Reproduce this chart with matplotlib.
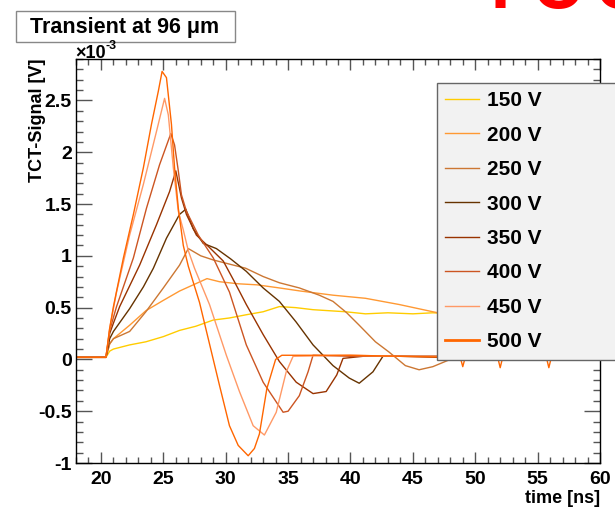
import matplotlib
matplotlib.use('Agg')
import matplotlib.pyplot as plt
from matplotlib.ticker import MultipleLocator, FormatStrFormatter
from matplotlib.patches import Rectangle

plt.rcParams['font.family'] = ['Liberation Sans', 'DejaVu Sans']
plt.rcParams['font.weight'] = 'bold'
plt.rcParams['axes.labelweight'] = 'bold'
plt.rcParams['axes.unicode_minus'] = False

#---- Data (signal in units of 1e-3 V, time in ns) ----------------------------#

labels = ['150 V', '200 V', '250 V', '300 V', '350 V', '400 V', '450 V', '500 V']
colors = ['#FFCC00', '#FF9933', '#CC7733', '#663300',
          '#993300', '#CC5522', '#FF9966', '#FF6600']

t150 = [18, 20.4, 20.7, 21.0, 22.3, 23.6, 25.0, 26.3, 27.6, 29.0, 30.3, 31.6,
        33.0, 34.3, 35.6, 37.0, 38.3, 39.6, 41.2, 43.0, 45.0, 46.6, 50, 55, 60]
v150 = [0.02, 0.02, 0.08, 0.10, 0.14, 0.17, 0.22, 0.28, 0.32, 0.38, 0.40, 0.43,
        0.46, 0.51, 0.50, 0.48, 0.47, 0.46, 0.44, 0.45, 0.44, 0.45, 0.43, 0.40, 0.38]

t200 = [18, 20.4, 20.7, 21.0, 22.3, 23.6, 25.0, 26.3, 27.4, 28.5, 29.5, 31.0,
        32.5, 34.3, 36.0, 38.6, 41.2, 43.9, 46.6, 50, 55, 60]
v200 = [0.02, 0.02, 0.15, 0.20, 0.33, 0.47, 0.57, 0.66, 0.72, 0.78, 0.75, 0.73,
        0.72, 0.69, 0.66, 0.62, 0.59, 0.53, 0.46, 0.38, 0.25, 0.12]

t250 = [18, 20.4, 20.7, 21.0, 22.3, 23.6, 25.0, 26.3, 27.0, 28.0, 29.0, 30.3,
        31.6, 33.0, 34.3, 35.9, 37.5, 38.6, 39.7, 40.7, 42.0, 43.1, 44.4, 45.5,
        46.6, 48, 50, 55, 60]
v250 = [0.02, 0.02, 0.15, 0.20, 0.27, 0.46, 0.69, 0.91, 1.07, 1.00, 0.96, 0.92,
        0.88, 0.80, 0.74, 0.69, 0.62, 0.56, 0.45, 0.33, 0.17, 0.07, -0.06, -0.10,
        -0.07, 0.00, 0.02, 0.02, 0.02]

t300 = [18, 20.4, 20.7, 21.0, 22.3, 23.4, 24.2, 25.25, 26.3, 26.8, 27.4, 28.2,
        29.25, 30.4, 31.65, 33.0, 34.3, 35.65, 37.0, 38.6, 39.9, 40.7, 41.8, 42.6,
        44, 47, 50, 55, 60]
v300 = [0.02, 0.02, 0.20, 0.27, 0.49, 0.70, 0.88, 1.17, 1.40, 1.45, 1.26, 1.12,
        1.07, 0.97, 0.85, 0.69, 0.56, 0.36, 0.14, -0.06, -0.18, -0.23, -0.12, 0.03,
        0.03, 0.03, 0.02, 0.02, 0.02]

t350 = [18, 20.4, 20.7, 21.0, 21.5, 23.1, 24.45, 25.5, 26.0, 26.45, 26.85, 27.65,
        28.7, 29.8, 30.7, 31.65, 33.0, 34.3, 35.65, 37.0, 38.05, 38.9, 39.4, 41,
        44, 47, 50, 55, 60]
v350 = [0.02, 0.02, 0.25, 0.35, 0.51, 0.91, 1.30, 1.62, 1.82, 1.56, 1.40, 1.20,
        1.08, 0.95, 0.75, 0.53, 0.24, -0.02, -0.22, -0.33, -0.31, -0.15, 0.01, 0.03,
        0.03, 0.02, 0.02, 0.02, 0.02]

t400 = [18, 20.4, 20.7, 21.25, 22.6, 23.65, 24.7, 25.6, 25.9, 26.2, 26.45, 26.85,
        27.8, 29.0, 30.3, 31.65, 33.0, 34.6, 35.0, 35.9, 36.6, 37.0, 40, 44, 47,
        50, 55, 60]
v400 = [0.02, 0.02, 0.28, 0.51, 0.98, 1.46, 1.88, 2.18, 2.07, 1.82, 1.59, 1.43,
        1.20, 0.98, 0.65, 0.14, -0.22, -0.51, -0.50, -0.35, -0.12, 0.04, 0.03, 0.03,
        0.03, 0.02, 0.02, 0.02]

t450 = [18, 20.4, 20.7, 21.25, 22.3, 23.4, 24.45, 25.1, 25.4, 25.8, 26.2, 26.6,
        27.0, 27.5, 28.7, 30.05, 31.1, 32.2, 33.1, 34.05, 34.85, 35.4, 40, 44, 47,
        50, 55, 60]
v450 = [0.02, 0.02, 0.30, 0.65, 1.20, 1.69, 2.20, 2.52, 2.36, 1.85, 1.43, 1.25,
        1.05, 0.88, 0.53, 0.04, -0.31, -0.64, -0.73, -0.51, -0.12, 0.03, 0.04, 0.03,
        0.03, 0.02, 0.02, 0.02]

t500 = [18, 20.4, 20.7, 21.0, 21.8, 22.6, 23.4, 24.05, 24.6, 24.9, 25.25, 25.65,
        25.9, 26.2, 26.6, 27.0, 27.9, 28.7, 29.5, 30.3, 31.0, 31.8, 32.3, 32.7,
        33.3, 34.0, 34.5, 40, 44, 48.8, 49.0, 49.2, 51.8, 52.0, 52.2, 55.7, 55.9,
        56.1, 60]
v500 = [0.02, 0.02, 0.30, 0.51, 0.98, 1.40, 1.85, 2.27, 2.59, 2.78, 2.72, 2.27,
        1.85, 1.46, 1.10, 0.90, 0.55, 0.15, -0.25, -0.64, -0.83, -0.93, -0.86, -0.72,
        -0.28, 0.00, 0.04, 0.04, 0.03, 0.02, -0.07, 0.02, 0.02, -0.08, 0.02, 0.02,
        -0.08, 0.02, 0.02]

times = [t150, t200, t250, t300, t350, t400, t450, t500]
signals = [v150, v200, v250, v300, v350, v400, v450, v500]

#---- Plotting ---------------------------------------------------------------#

fig = plt.figure(figsize=(6.15, 5.08), dpi=100)
ax = fig.add_axes([76/615, 45/508, 524/615, 404/508])

lines = []
for t, v, c, lab in zip(times, signals, colors, labels):
    ln, = ax.plot(t, v, color=c, lw=1.0, label=lab)
    lines.append(ln)

ax.set_xlim(18, 60)
ax.set_ylim(-1, 2.9)

ax.xaxis.set_major_locator(MultipleLocator(5))
ax.xaxis.set_minor_locator(MultipleLocator(1))
ax.yaxis.set_major_locator(MultipleLocator(0.5))
ax.yaxis.set_minor_locator(MultipleLocator(0.1))
ax.yaxis.set_major_formatter(FormatStrFormatter('%g'))

ax.tick_params(which='both', direction='in', top=True, right=True,
               color='#555555', width=1.0, labelsize=14)
ax.tick_params(axis='x', which='major', length=8, pad=6)
ax.tick_params(axis='x', which='minor', length=4.3)
ax.tick_params(axis='y', which='major', length=11.3, pad=3)
ax.tick_params(axis='y', which='minor', length=5.3)
for sp in ax.spines.values():
    sp.set_linewidth(1.0)

ax.set_xlabel('time [ns]', fontsize=13, fontweight='bold', loc='right')
ax.xaxis.set_label_coords(1.0, -0.067)
ax.set_ylabel('TCT-Signal [V]', fontsize=13, fontweight='bold', loc='top')
ax.yaxis.set_label_coords(-0.058, 1.0)

# exponent of the y axis
fig.text(75/615, 1-58/508, '\u00d710', fontsize=13, ha='left', va='baseline')
fig.text(106/615, 1-49/508, '-3', fontsize=9, ha='left', va='baseline')

# title box
fig.add_artist(Rectangle((16/615, 1-42/508), 219/615, 31/508,
                         transform=fig.transFigure, fc='white', ec='#888888', lw=1.0))
fig.text(125/615, 1-27/508, 'Transient at 96 \u03bcm', fontsize=15.5,
         ha='center', va='center')

# red label cut off by the top edge
fig.text(466/615, 1-8/508, '100', fontsize=80, family='Roboto',
         fontweight='normal', color='red', ha='left', va='baseline')

leg = fig.legend(handles=lines, labels=labels, loc='upper left',
                 bbox_to_anchor=(437/615, 1-365/508, 200/615, 282/508),
                 mode='expand', borderaxespad=0, borderpad=0.4,
                 labelspacing=0.74, handlelength=1.63, handletextpad=0.38,
                 prop={'size': 15, 'weight': 'bold'}, fancybox=False,
                 framealpha=1, facecolor='#f2f2f2', edgecolor='#666666')
leg.get_frame().set_linewidth(1.0)
leg.get_lines()[-1].set_linewidth(2.0)

plt.savefig('out.png', dpi=100)
